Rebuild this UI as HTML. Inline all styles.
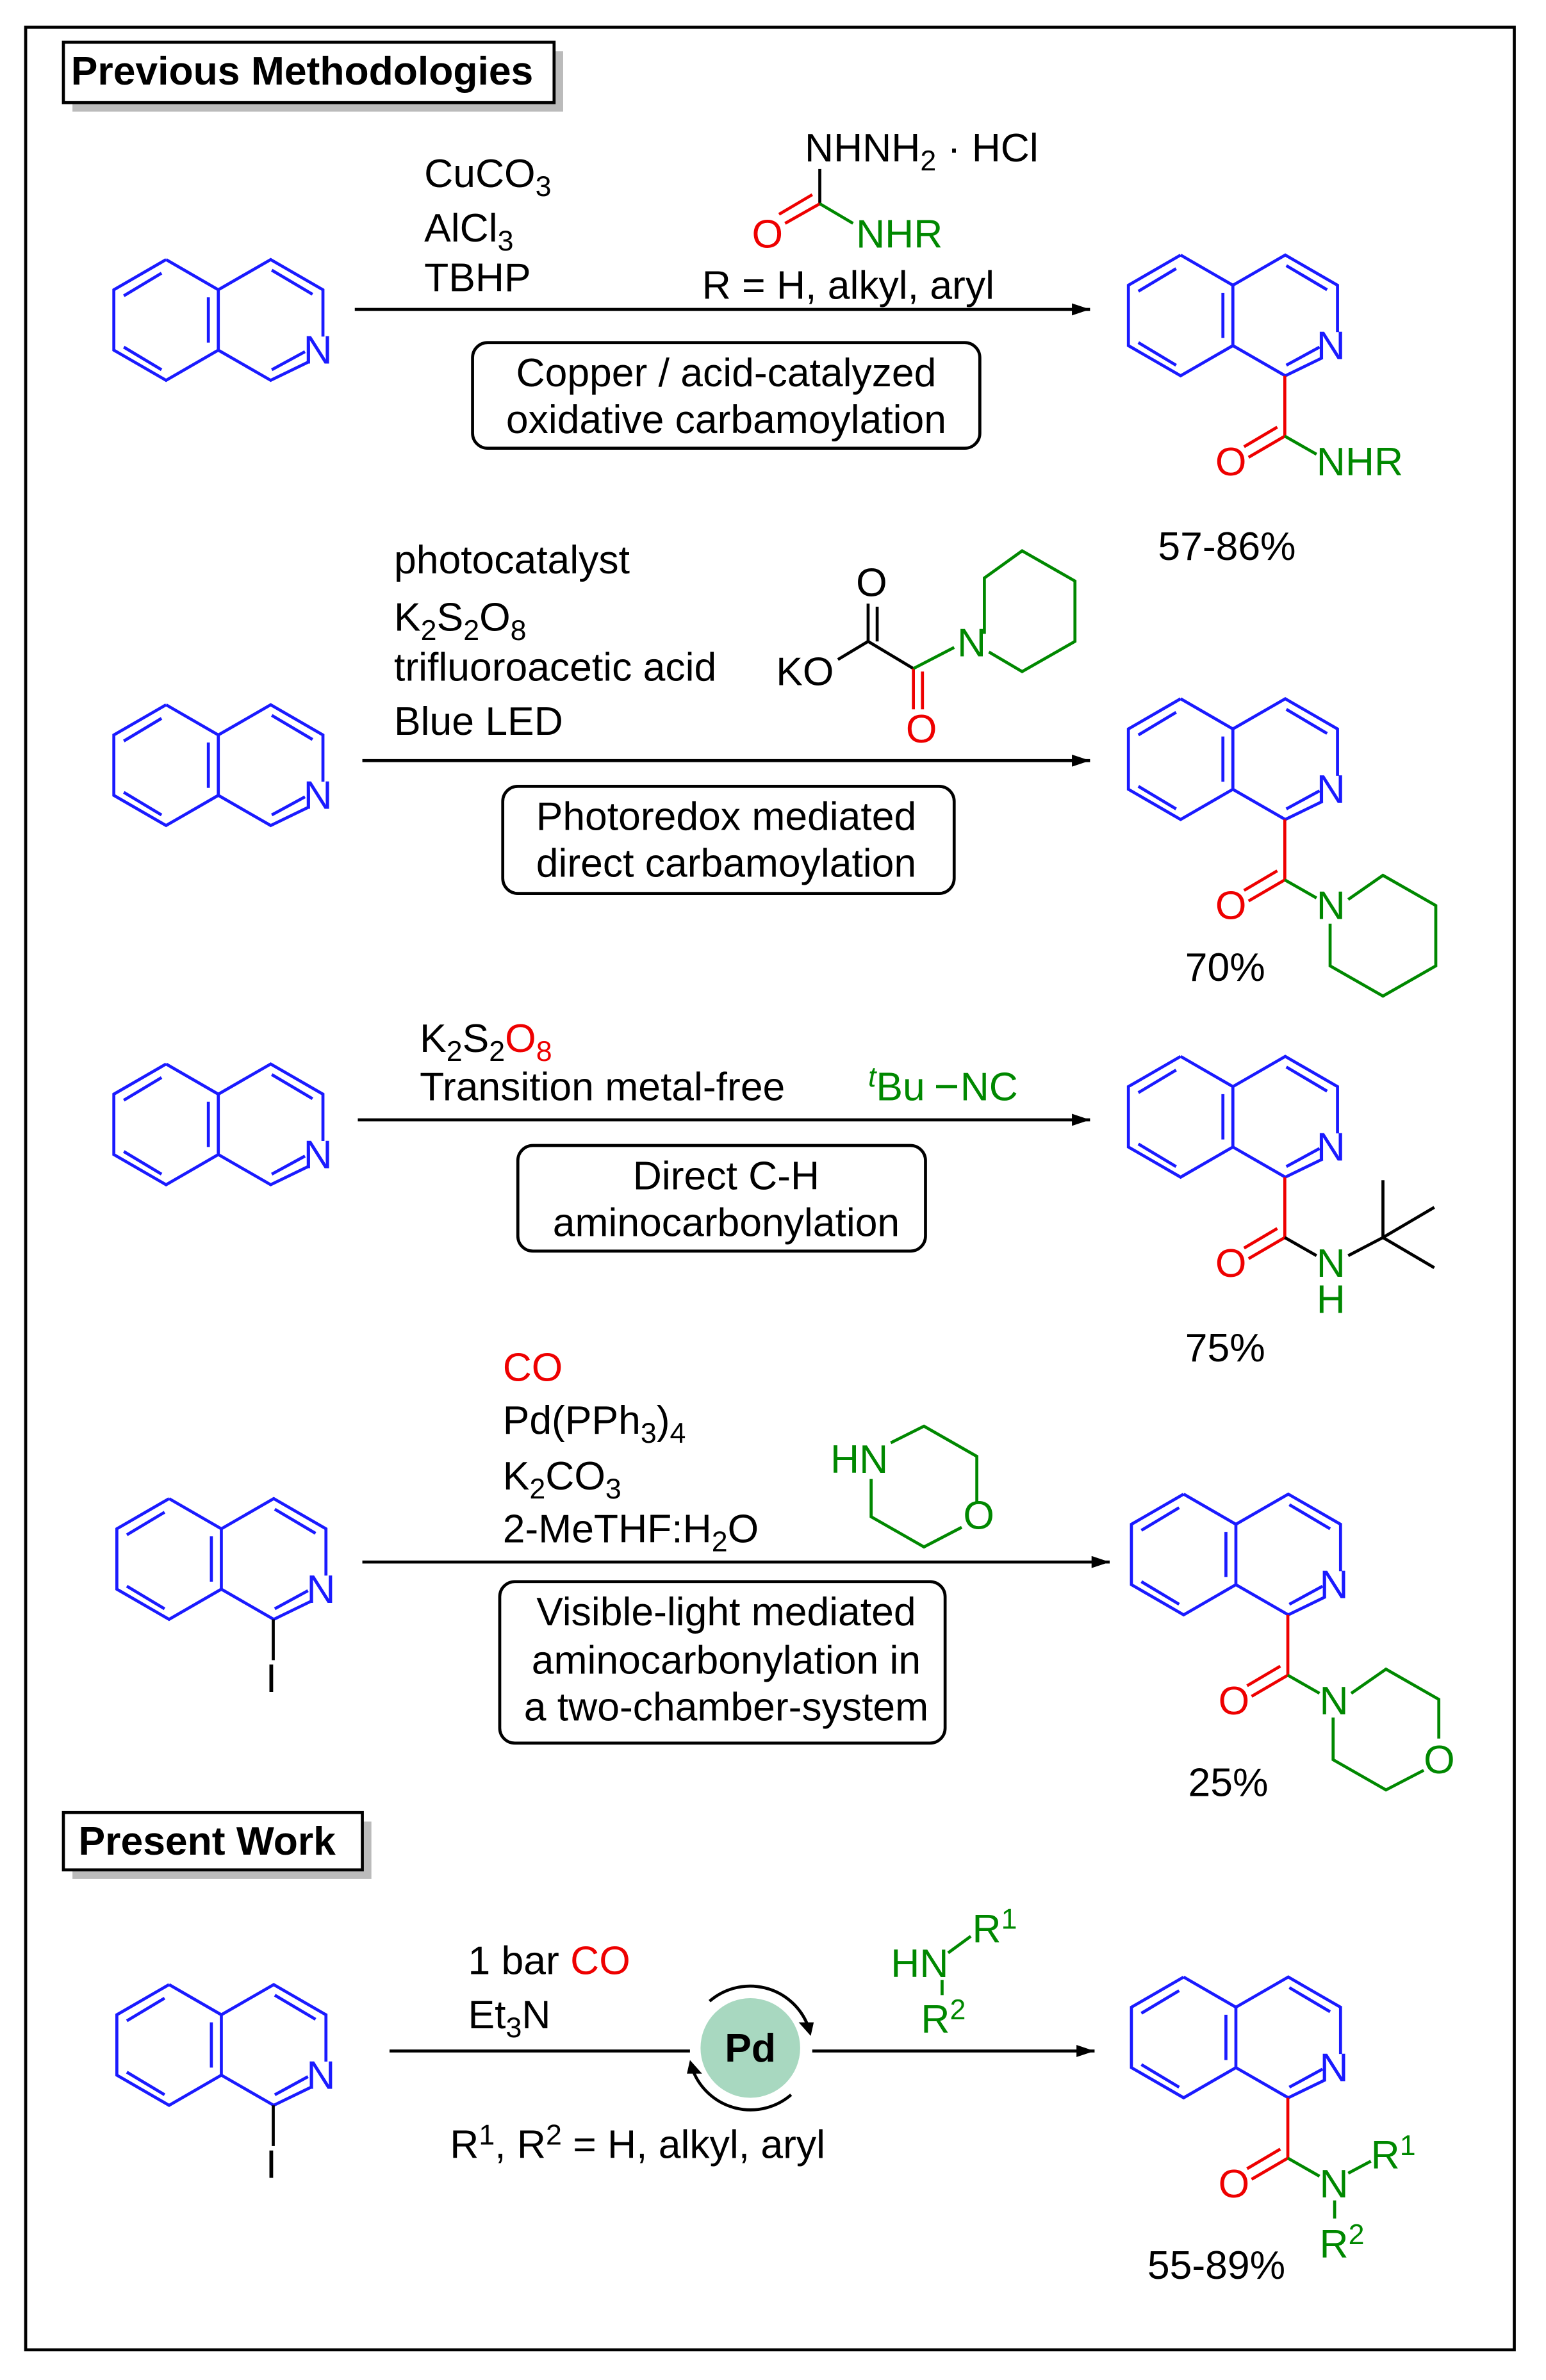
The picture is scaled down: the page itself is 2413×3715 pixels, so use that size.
<!DOCTYPE html>
<html><head><meta charset="utf-8"><style>
html,body{margin:0;padding:0;background:#fff;}
svg{display:block}
text{font-family:"Liberation Sans",sans-serif;font-size:26.5px;}
tspan.s{font-size:19px;}
</style></head><body>
<svg width="2413" height="3715" viewBox="0 0 1024 1577" preserveAspectRatio="none" xmlns="http://www.w3.org/2000/svg">
<defs>
<g id="iq" stroke="#1a1aff" stroke-width="2" fill="none">
<polyline points="0,-40 34.6,-20 34.6,20 0,40 -34.6,20 -34.6,-20 0,-40"/>
<polyline points="34.6,-20 69.3,-40 103.9,-20 103.9,11"/>
<polyline points="94,28 69.3,40 34.6,20"/>
<line x1="-28" y1="-16" x2="-3" y2="-31"/>
<line x1="-3" y1="33" x2="-28" y2="18"/>
<line x1="28" y1="-15" x2="28" y2="15"/>
<line x1="70" y1="-33" x2="97" y2="-17"/>
<line x1="70" y1="33" x2="92" y2="21"/>
</g>
<marker id="ah" markerWidth="12" markerHeight="8" refX="12" refY="4" orient="auto" markerUnits="userSpaceOnUse"><path d="M0,0 L12,4 L0,8 Z" fill="#000"/></marker>
</defs>
<rect x="17" y="18" width="986" height="1539" fill="none" stroke="#000" stroke-width="2"/>
<!-- headers -->
<rect x="48" y="34" width="325" height="40" fill="#bbb"/>
<rect x="42" y="28" width="325" height="40" fill="#fff" stroke="#000" stroke-width="2"/>
<text x="47" y="56" font-weight="bold" font-size="26">Previous Methodologies</text>
<rect x="48" y="1207" width="198" height="38" fill="#bbb"/>
<rect x="42" y="1201" width="198" height="38" fill="#fff" stroke="#000" stroke-width="2"/>
<text x="52" y="1229" font-weight="bold" font-size="26">Present Work</text>

<!-- Row 1 -->
<use href="#iq" x="110" y="212"/><text x="201" y="241" fill="#1a1aff">N</text>
<line x1="235" y1="205" x2="722" y2="205" stroke="#000" stroke-width="2" marker-end="url(#ah)"/>
<text x="281" y="124">CuCO<tspan class="s" dy="6">3</tspan></text>
<text x="281" y="160">AlCl<tspan class="s" dy="6">3</tspan></text>
<text x="281" y="193">TBHP</text>
<text x="533" y="107">NHNH<tspan class="s" dy="6">2</tspan><tspan dy="-6"> · HCl</tspan></text>
<line x1="543" y1="112" x2="543" y2="135" stroke="#000" stroke-width="2"/>
<line x1="543" y1="135" x2="520" y2="148" stroke="#e00" stroke-width="2"/>
<line x1="538" y1="129" x2="516" y2="142" stroke="#e00" stroke-width="2"/>
<line x1="543" y1="135" x2="565" y2="148" stroke="#080" stroke-width="2"/>
<text x="498" y="164" fill="#e00">O</text><text x="567" y="164" fill="#080">NHR</text>
<text x="465" y="198">R = H, alkyl, aryl</text>
<rect x="313" y="227" width="336" height="70" rx="10" fill="none" stroke="#000" stroke-width="2"/>
<text x="481" y="256" text-anchor="middle">Copper / acid-catalyzed</text>
<text x="481" y="287" text-anchor="middle">oxidative carbamoylation</text>
<use href="#iq" x="782" y="209"/><text x="872" y="238" fill="#1a1aff">N</text>
<g stroke="#e00" stroke-width="2"><line x1="851" y1="249" x2="851" y2="289"/><line x1="851" y1="289" x2="827" y2="303"/><line x1="846" y1="283" x2="824" y2="296"/></g>
<line x1="851" y1="289" x2="872" y2="301" stroke="#080" stroke-width="2"/>
<text x="805" y="315" fill="#e00">O</text><text x="872" y="315" fill="#080">NHR</text>
<text x="767" y="371">57-86%</text>

<!-- Row 2 -->
<text x="261" y="380">photocatalyst</text>
<text x="261" y="418">K<tspan class="s" dy="6">2</tspan><tspan dy="-6">S</tspan><tspan class="s" dy="6">2</tspan><tspan dy="-6">O</tspan><tspan class="s" dy="6">8</tspan></text>
<text x="261" y="451">trifluoroacetic acid</text>
<text x="261" y="487">Blue LED</text>
<text x="514" y="454">KO</text>
<g stroke="#000" stroke-width="2"><line x1="555" y1="437" x2="575" y2="425"/><line x1="575" y1="425" x2="575" y2="400"/><line x1="581" y1="425" x2="581" y2="402"/><line x1="575" y1="425" x2="605" y2="443"/></g>
<text x="567" y="395">O</text>
<g stroke="#e00" stroke-width="2"><line x1="605" y1="443" x2="605" y2="470"/><line x1="611" y1="445" x2="611" y2="470"/></g>
<text x="600" y="492" fill="#e00">O</text>
<g stroke="#080" stroke-width="2" fill="none"><line x1="605" y1="443" x2="632" y2="429"/><polyline points="652,420 652,383 677,365 712,385 712,425 677,445 655,432"/></g>
<text x="634" y="435" fill="#080">N</text>
<line x1="240" y1="504" x2="722" y2="504" stroke="#000" stroke-width="2" marker-end="url(#ah)"/>
<use href="#iq" x="110" y="507"/><text x="201" y="536" fill="#1a1aff">N</text>
<rect x="333" y="521" width="299" height="71" rx="10" fill="none" stroke="#000" stroke-width="2"/>
<text x="481" y="550" text-anchor="middle">Photoredox mediated</text>
<text x="481" y="581" text-anchor="middle">direct carbamoylation</text>
<use href="#iq" x="782" y="503"/><text x="872" y="532" fill="#1a1aff">N</text>
<g stroke="#e00" stroke-width="2"><line x1="851" y1="543" x2="851" y2="583"/><line x1="851" y1="583" x2="827" y2="597"/><line x1="846" y1="577" x2="824" y2="590"/></g>
<g stroke="#080" stroke-width="2" fill="none"><line x1="851" y1="583" x2="872" y2="595"/><polyline points="893,596 916,580 951,600 951,640 916,660 881,640 881,612"/></g>
<text x="805" y="609" fill="#e00">O</text><text x="872" y="609" fill="#080">N</text>
<text x="785" y="650">70%</text>

<!-- Row 3 -->
<text x="278" y="697">K<tspan class="s" dy="6">2</tspan><tspan dy="-6">S</tspan><tspan class="s" dy="6">2</tspan><tspan dy="-6" fill="#e00">O</tspan><tspan class="s" dy="6" fill="#e00">8</tspan></text>
<text x="278" y="729">Transition metal-free</text>
<text x="575" y="729" fill="#080"><tspan class="s" dy="-9" font-style="italic">t</tspan><tspan dy="9">Bu</tspan></text>
<line x1="620" y1="720" x2="634" y2="720" stroke="#080" stroke-width="2"/>
<text x="636" y="729" fill="#080">NC</text>
<line x1="237" y1="742" x2="722" y2="742" stroke="#000" stroke-width="2" marker-end="url(#ah)"/>
<use href="#iq" x="110" y="745"/><text x="201" y="774" fill="#1a1aff">N</text>
<rect x="343" y="759" width="270" height="70" rx="10" fill="none" stroke="#000" stroke-width="2"/>
<text x="481" y="788" text-anchor="middle">Direct C-H</text>
<text x="481" y="819" text-anchor="middle">aminocarbonylation</text>
<use href="#iq" x="782" y="740"/><text x="872" y="769" fill="#1a1aff">N</text>
<g stroke="#e00" stroke-width="2"><line x1="851" y1="780" x2="851" y2="820"/><line x1="851" y1="820" x2="827" y2="834"/><line x1="846" y1="814" x2="824" y2="827"/></g>
<g stroke="#000" stroke-width="2"><line x1="851" y1="820" x2="872" y2="832"/><line x1="893" y1="832" x2="916" y2="820"/><line x1="916" y1="820" x2="950" y2="800"/><line x1="916" y1="820" x2="950" y2="840"/><line x1="916" y1="820" x2="916" y2="782"/></g>
<text x="805" y="846" fill="#e00">O</text><text x="872" y="846" fill="#080">N</text><text x="872" y="870" fill="#080">H</text>
<text x="785" y="902">75%</text>

<!-- Row 4 -->
<text x="333" y="915" fill="#e00">CO</text>
<text x="333" y="950">Pd(PPh<tspan class="s" dy="6">3</tspan><tspan dy="-6">)</tspan><tspan class="s" dy="6">4</tspan></text>
<text x="333" y="987">K<tspan class="s" dy="6">2</tspan><tspan dy="-6">CO</tspan><tspan class="s" dy="6">3</tspan></text>
<text x="333" y="1022">2-MeTHF:H<tspan class="s" dy="6">2</tspan><tspan dy="-6">O</tspan></text>
<text x="550" y="976" fill="#080">HN</text>
<polyline points="590,956 612,945 647,965 647,995" stroke="#080" stroke-width="2" fill="none"/>
<polyline points="637,1012 612,1025 577,1005 577,980" stroke="#080" stroke-width="2" fill="none"/>
<text x="638" y="1013" fill="#080">O</text>
<line x1="240" y1="1035" x2="735" y2="1035" stroke="#000" stroke-width="2" marker-end="url(#ah)"/>
<use href="#iq" x="112" y="1033"/><text x="203" y="1062" fill="#1a1aff">N</text>
<line x1="181" y1="1073" x2="181" y2="1100" stroke="#000" stroke-width="2"/><text x="176" y="1121">I</text>
<rect x="331" y="1048" width="295" height="107" rx="10" fill="none" stroke="#000" stroke-width="2"/>
<text x="481" y="1077" text-anchor="middle">Visible-light mediated</text>
<text x="481" y="1109" text-anchor="middle">aminocarbonylation in</text>
<text x="481" y="1140" text-anchor="middle">a two-chamber-system</text>
<use href="#iq" x="784" y="1030"/><text x="874" y="1059" fill="#1a1aff">N</text>
<g stroke="#e00" stroke-width="2"><line x1="853" y1="1070" x2="853" y2="1110"/><line x1="853" y1="1110" x2="829" y2="1124"/><line x1="848" y1="1104" x2="826" y2="1117"/></g>
<g stroke="#080" stroke-width="2" fill="none"><line x1="853" y1="1110" x2="874" y2="1122"/><polyline points="895,1122 918,1106 953,1126 953,1152"/><polyline points="943,1173 918,1186 883,1166 883,1138"/></g>
<text x="807" y="1136" fill="#e00">O</text><text x="874" y="1136" fill="#080">N</text><text x="943" y="1175" fill="#080">O</text>
<text x="787" y="1190">25%</text>

<!-- Row 5 -->
<text x="310" y="1308">1 bar <tspan fill="#e00">CO</tspan></text>
<text x="310" y="1344">Et<tspan class="s" dy="6">3</tspan><tspan dy="-6">N</tspan></text>
<text x="298" y="1430">R<tspan class="s" dy="-9">1</tspan><tspan dy="9">, R</tspan><tspan class="s" dy="-9">2</tspan><tspan dy="9"> = H, alkyl, aryl</tspan></text>
<line x1="258" y1="1359" x2="457" y2="1359" stroke="#000" stroke-width="2"/>
<line x1="538" y1="1359" x2="725" y2="1359" stroke="#000" stroke-width="2" marker-end="url(#ah)"/>
<circle cx="497" cy="1357" r="33" fill="#a8d8c0"/>
<path d="M470,1326 A41,41 0 0 1 535,1342" fill="none" stroke="#000" stroke-width="2"/>
<path d="M524,1388 A41,41 0 0 1 459,1372" fill="none" stroke="#000" stroke-width="2"/>
<path d="M537,1349 l-8,-9 l10,0 z" fill="#000"/>
<path d="M457,1365 l8,9 l-10,0 z" fill="#000"/>
<text x="497" y="1366" text-anchor="middle" font-weight="bold">Pd</text>
<text x="590" y="1310" fill="#080">HN</text>
<line x1="628" y1="1294" x2="643" y2="1283" stroke="#080" stroke-width="2"/>
<line x1="624" y1="1312" x2="624" y2="1322" stroke="#080" stroke-width="2"/>
<text x="644" y="1287" fill="#080">R<tspan class="s" dy="-9">1</tspan></text>
<text x="610" y="1347" fill="#080">R<tspan class="s" dy="-9">2</tspan></text>
<use href="#iq" x="112" y="1355"/><text x="203" y="1384" fill="#1a1aff">N</text>
<line x1="181" y1="1395" x2="181" y2="1422" stroke="#000" stroke-width="2"/><text x="176" y="1443">I</text>
<use href="#iq" x="784" y="1350"/><text x="874" y="1379" fill="#1a1aff">N</text>
<g stroke="#e00" stroke-width="2"><line x1="853" y1="1390" x2="853" y2="1430"/><line x1="853" y1="1430" x2="829" y2="1444"/><line x1="848" y1="1424" x2="826" y2="1437"/></g>
<g stroke="#080" stroke-width="2"><line x1="853" y1="1430" x2="874" y2="1442"/><line x1="893" y1="1440" x2="908" y2="1432"/><line x1="884" y1="1458" x2="884" y2="1470"/></g>
<text x="807" y="1456" fill="#e00">O</text><text x="874" y="1456" fill="#080">N</text>
<text x="908" y="1437" fill="#080">R<tspan class="s" dy="-9">1</tspan></text>
<text x="874" y="1496" fill="#080">R<tspan class="s" dy="-9">2</tspan></text>
<text x="760" y="1510">55-89%</text>
</svg>
</body></html>
